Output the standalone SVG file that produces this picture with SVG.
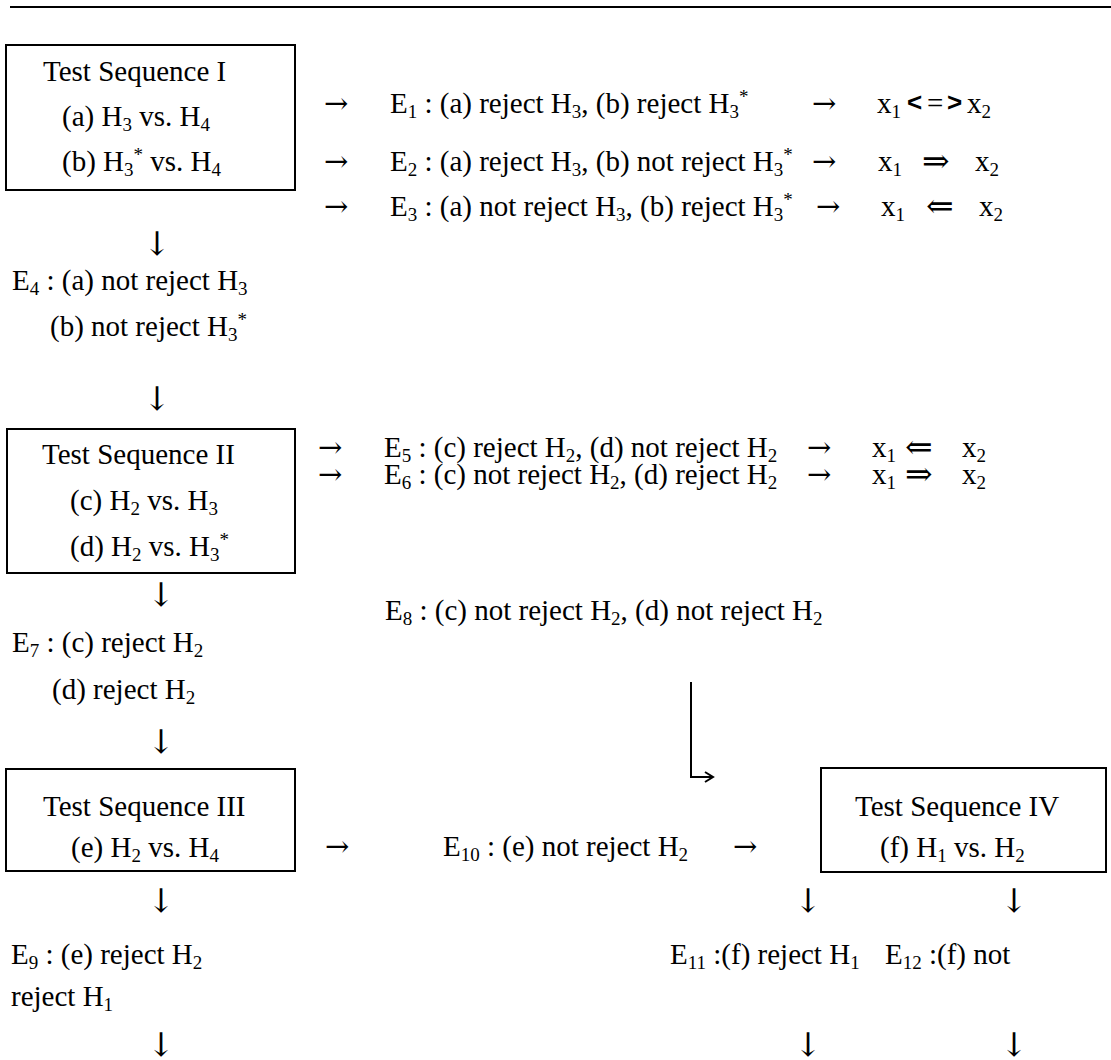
<svg xmlns="http://www.w3.org/2000/svg" width="1111" height="1060" viewBox="0 0 1111 1060">
<style>
.t{font-family:"Liberation Serif","Times New Roman","DejaVu Serif",serif;font-size:29px;fill:#000}
.s{font-size:19px}
.b{font-family:"Liberation Sans",Arial,sans-serif;font-weight:bold;font-size:26px}
.a{font-family:"DejaVu Serif","DejaVu Sans",serif;font-size:29px;fill:#000}
.d{font-family:"DejaVu Serif","DejaVu Sans",serif;font-size:33px;fill:#000;text-anchor:middle}
.dd{font-family:"DejaVu Sans","DejaVu Serif",sans-serif;font-weight:200;font-size:33px;fill:#000}
.box{fill:none;stroke:#000;stroke-width:2}
.ln{fill:none;stroke:#000;stroke-width:2}
</style>
<defs>
<marker id="chev" markerWidth="12" markerHeight="12" refX="10" refY="6" orient="auto" markerUnits="userSpaceOnUse">
<path d="M2,1 L10,6 L2,11" fill="none" stroke="#000" stroke-width="2"/>
</marker>
</defs>
<rect width="1111" height="1060" fill="#fff"/>
<line x1="10" y1="7" x2="1111" y2="7" stroke="#000" stroke-width="2"/>

<g id="seq1">
<rect class="box" x="6" y="45" width="289" height="145"/>
<text class="t" x="43" y="81">Test Sequence I</text>
<text class="t" x="62" y="126">(a) H<tspan class="s" dy="5">3</tspan><tspan dy="-5"> vs. H</tspan><tspan class="s" dy="5">4</tspan></text>
<text class="t" x="62" y="171">(b) H<tspan class="s" dy="5">3</tspan><tspan class="s" dy="-15">*</tspan><tspan dy="10"> vs. H</tspan><tspan class="s" dy="5">4</tspan></text>
</g>

<g id="e1">
<text class="t" x="390" y="113">E<tspan class="s" dy="5">1</tspan><tspan dy="-5"> : (a) reject H</tspan><tspan class="s" dy="5">3</tspan><tspan dy="-5">, (b) reject H</tspan><tspan class="s" dy="5">3</tspan><tspan class="s" dy="-15">*</tspan></text>
</g>
<g id="r1">
<text class="t" x="877" y="113">x<tspan class="s" dy="5">1</tspan></text>
<text class="b" x="907" y="111">&lt;</text>
<text class="t" x="927" y="113">=</text>
<text class="b" x="947" y="111">&gt;</text>
<text class="t" x="967" y="113">x<tspan class="s" dy="5">2</tspan></text>
</g>

<g id="e2">
<text class="t" x="390" y="171">E<tspan class="s" dy="5">2</tspan><tspan dy="-5"> : (a) reject H</tspan><tspan class="s" dy="5">3</tspan><tspan dy="-5">, (b) not reject H</tspan><tspan class="s" dy="5">3</tspan><tspan class="s" dy="-15">*</tspan></text>
</g>
<g id="r2">
<text class="t" x="878" y="171">x<tspan class="s" dy="5">1</tspan></text>
<text class="dd" x="922" y="172">⇒</text>
<text class="t" x="975" y="171">x<tspan class="s" dy="5">2</tspan></text>
</g>

<g id="e3">
<text class="t" x="390" y="216">E<tspan class="s" dy="5">3</tspan><tspan dy="-5"> : (a) not reject H</tspan><tspan class="s" dy="5">3</tspan><tspan dy="-5">, (b) reject H</tspan><tspan class="s" dy="5">3</tspan><tspan class="s" dy="-15">*</tspan></text>
</g>
<g id="r3">
<text class="t" x="881" y="216">x<tspan class="s" dy="5">1</tspan></text>
<text class="dd" x="926" y="217">⇐</text>
<text class="t" x="979" y="216">x<tspan class="s" dy="5">2</tspan></text>
</g>

<g id="e4">
<text class="t" x="12" y="290">E<tspan class="s" dy="5">4</tspan><tspan dy="-5"> : (a) not reject H</tspan><tspan class="s" dy="5">3</tspan></text>
<text class="t" x="50" y="336">(b) not reject H<tspan class="s" dy="5">3</tspan><tspan class="s" dy="-15">*</tspan></text>
</g>

<g id="seq2">
<rect class="box" x="7" y="429" width="288" height="144"/>
<text class="t" x="42" y="464">Test Sequence II</text>
<text class="t" x="70" y="510">(c) H<tspan class="s" dy="5">2</tspan><tspan dy="-5"> vs. H</tspan><tspan class="s" dy="5">3</tspan></text>
<text class="t" x="70" y="556">(d) H<tspan class="s" dy="5">2</tspan><tspan dy="-5"> vs. H</tspan><tspan class="s" dy="5">3</tspan><tspan class="s" dy="-15">*</tspan></text>
</g>

<g id="e5">
<text class="t" x="384" y="457">E<tspan class="s" dy="5">5</tspan><tspan dy="-5"> : (c) reject H</tspan><tspan class="s" dy="5">2</tspan><tspan dy="-5">, (d) not reject H</tspan><tspan class="s" dy="5">2</tspan></text>
</g>
<g id="r5">
<text class="t" x="872" y="457">x<tspan class="s" dy="5">1</tspan></text>
<text class="dd" x="905" y="458">⇐</text>
<text class="t" x="962" y="457">x<tspan class="s" dy="5">2</tspan></text>
</g>
<g id="e6">
<text class="t" x="384" y="484">E<tspan class="s" dy="5">6</tspan><tspan dy="-5"> : (c) not reject H</tspan><tspan class="s" dy="5">2</tspan><tspan dy="-5">, (d) reject H</tspan><tspan class="s" dy="5">2</tspan></text>
</g>
<g id="r6">
<text class="t" x="872" y="484">x<tspan class="s" dy="5">1</tspan></text>
<text class="dd" x="905" y="485">⇒</text>
<text class="t" x="962" y="484">x<tspan class="s" dy="5">2</tspan></text>
</g>

<g id="e8">
<text class="t" x="385" y="620">E<tspan class="s" dy="5">8</tspan><tspan dy="-5"> : (c) not reject H</tspan><tspan class="s" dy="5">2</tspan><tspan dy="-5">, (d) not reject H</tspan><tspan class="s" dy="5">2</tspan></text>
</g>

<g id="e7">
<text class="t" x="12" y="652">E<tspan class="s" dy="5">7</tspan><tspan dy="-5"> : (c) reject H</tspan><tspan class="s" dy="5">2</tspan></text>
<text class="t" x="52" y="699">(d) reject H<tspan class="s" dy="5">2</tspan></text>
</g>

<g id="seq3">
<rect class="box" x="6" y="769" width="289" height="102"/>
<text class="t" x="43" y="816">Test Sequence III</text>
<text class="t" x="71" y="857">(e) H<tspan class="s" dy="5">2</tspan><tspan dy="-5"> vs. H</tspan><tspan class="s" dy="5">4</tspan></text>
</g>

<g id="e10">
<text class="t" x="443" y="856">E<tspan class="s" dy="5">10</tspan><tspan dy="-5"> : (e) not reject H</tspan><tspan class="s" dy="5">2</tspan></text>
</g>

<g id="seq4">
<rect class="box" x="821" y="768" width="285" height="104"/>
<text class="t" x="855" y="816">Test Sequence IV</text>
<text class="t" x="880" y="857">(f) H<tspan class="s" dy="5">1</tspan><tspan dy="-5"> vs. H</tspan><tspan class="s" dy="5">2</tspan></text>
</g>

<g id="e9">
<text class="t" x="11" y="964">E<tspan class="s" dy="5">9</tspan><tspan dy="-5"> : (e) reject H</tspan><tspan class="s" dy="5">2</tspan></text>
<text class="t" x="11" y="1006">reject H<tspan class="s" dy="5">1</tspan></text>
</g>
<g id="e11">
<text class="t" x="670" y="964">E<tspan class="s" dy="5">11</tspan><tspan dy="-5"> :(f) reject H</tspan><tspan class="s" dy="5">1</tspan></text>
</g>
<g id="e12">
<text class="t" x="885" y="964">E<tspan class="s" dy="5">12</tspan><tspan dy="-5"> :(f) not</tspan></text>
</g>

<g id="connectors">
<text class="a" x="324" y="113">→</text>
<text class="a" x="812" y="113">→</text>
<text class="a" x="324" y="171">→</text>
<text class="a" x="812" y="171">→</text>
<text class="a" x="324" y="216">→</text>
<text class="a" x="816" y="216">→</text>
<text class="a" x="318" y="457">→</text>
<text class="a" x="807" y="457">→</text>
<text class="a" x="318" y="484">→</text>
<text class="a" x="807" y="484">→</text>
<text class="a" x="325" y="856">→</text>
<text class="a" x="733" y="856">→</text>
<text class="d" x="157" y="255">↓</text>
<text class="d" x="157" y="410">↓</text>
<text class="d" x="161" y="606">↓</text>
<text class="d" x="161" y="753">↓</text>
<text class="d" x="161" y="912">↓</text>
<text class="d" x="808" y="912">↓</text>
<text class="d" x="1014" y="912">↓</text>
<text class="d" x="161" y="1056">↓</text>
<text class="d" x="808" y="1056">↓</text>
<text class="d" x="1014" y="1056">↓</text>
<path class="ln" d="M691,682 V777 H713" marker-end="url(#chev)"/>
</g>
</svg>
